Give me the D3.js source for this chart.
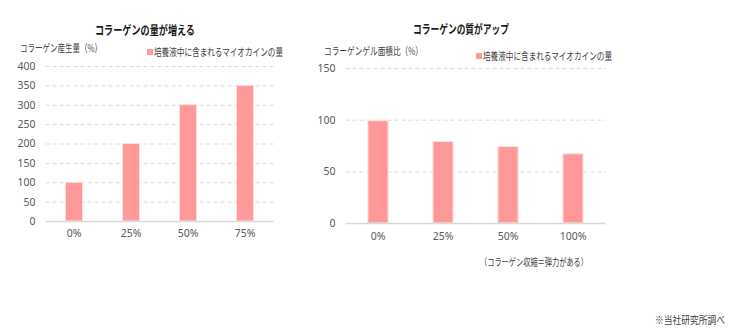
<!DOCTYPE html>
<html><head><meta charset="utf-8">
<script src="https://cdn.jsdelivr.net/npm/d3@7/dist/d3.min.js"></script>
<style>
body{margin:0;background:#fff;}
text{font-family:"Noto Sans CJK JP","Noto Sans",sans-serif;}
</style></head>
<body><svg id="c" width="740" height="334"></svg>
<script>
// Collagen production by myokine concentration
const amountCategories = ["0%", "25%", "50%", "75%"];
const amountValues = [100, 200, 300, 350];
const amountTicks = [0, 50, 100, 150, 200, 250, 300, 350, 400];

// Collagen gel area ratio by myokine concentration
const qualityCategories = ["0%", "25%", "50%", "100%"];
const qualityValues = [99, 79, 74, 67];
const qualityTicks = [0, 50, 100, 150];

const seriesName = "培養液中に含まれるマイオカインの量";
const barColor = "#ff9999";
const svg = d3.select("#c");

// narrow-set Japanese label: fixed width, glyphs condensed to fit
function label(sel, x, y, str, size, width, opts = {}) {
  return sel.append("text").attr("x", x).attr("y", y)
    .attr("text-anchor", opts.anchor || "start")
    .attr("textLength", width).attr("lengthAdjust", "spacingAndGlyphs")
    .style("font-size", size + "px").style("font-weight", opts.bold ? "bold" : "normal")
    .attr("fill", opts.fill || "#404040").text(str);
}

function panel(o) {
  const x = d3.scaleBand().domain(o.cats).range([o.x0, o.x1]).paddingInner(o.pad).paddingOuter(o.pad / 2);
  const y = d3.scaleLinear().domain([0, o.max]).range([o.y0, o.y1]);
  const g = svg.append("g");

  // dashed gridlines
  g.selectAll(".grid").data(o.ticks.filter(t => t > 0)).join("line")
    .attr("x1", o.x0).attr("x2", o.x1)
    .attr("y1", d => y(d) + 0.5).attr("y2", d => y(d) + 0.5)
    .attr("stroke", "#d9d9d9").attr("stroke-width", 1).attr("stroke-dasharray", "4,3");

  // y axis labels
  const ya = g.append("g").attr("transform", `translate(${o.x0 - 10},0)`)
    .call(d3.axisLeft(y).tickValues(o.ticks).tickSize(0).tickPadding(0));
  ya.select(".domain").remove();
  ya.selectAll("text").attr("fill", "#595959").style("font-size", "10.5px")
    .style("font-family", "'Noto Sans','Noto Sans CJK JP',sans-serif");

  // bars
  g.selectAll(".bar").data(o.cats).join("rect")
    .attr("x", d => x(d)).attr("width", x.bandwidth())
    .attr("y", (d, i) => y(o.vals[i])).attr("height", (d, i) => o.y0 - y(o.vals[i]))
    .attr("fill", barColor).attr("stroke", "#ffe0e0").attr("stroke-width", 1);

  // baseline
  g.append("line").attr("x1", o.x0).attr("x2", o.x1)
    .attr("y1", o.y0 + 0.5).attr("y2", o.y0 + 0.5)
    .attr("stroke", "#d9d9d9").attr("stroke-width", 1.5);

  // x axis labels
  const xa = g.append("g").attr("transform", `translate(0,${o.y0 + o.xlab})`)
    .call(d3.axisBottom(x).tickSize(0).tickPadding(0));
  xa.select(".domain").remove();
  xa.selectAll("text").attr("fill", "#595959").style("font-size", "10.5px")
    .style("font-family", "'Noto Sans','Noto Sans CJK JP',sans-serif");

  // title, axis title, legend
  label(g, o.tx, o.ty, o.title, 12.5, o.tw, {bold: true, fill: "#1a1a1a"});
  label(g, o.ax, o.ay, o.axisTitle, 10.5, o.aw);
  g.append("rect").attr("x", o.lx).attr("y", o.ly - 7).attr("width", 6).attr("height", 6).attr("fill", barColor);
  label(g, o.lx + 7, o.ly, seriesName, 10.5, 129);
}

panel({cats: amountCategories, vals: amountValues, ticks: amountTicks, max: 400,
  x0: 45.5, x1: 273.5, y0: 221, y1: 66, pad: 0.7, xlab: 9,
  title: "コラーゲンの量が増える", tx: 95, ty: 35, tw: 100,
  axisTitle: "コラーゲン産生量（%）", ax: 20, ay: 52, aw: 82,
  lx: 147, ly: 56});

panel({cats: qualityCategories, vals: qualityValues, ticks: qualityTicks, max: 150,
  x0: 345.5, x1: 605.5, y0: 223, y1: 68, pad: 0.69, xlab: 10,
  title: "コラーゲンの質がアップ", tx: 413, ty: 34, tw: 96,
  axisTitle: "コラーゲンゲル面積比（%）", ax: 324, ay: 55, aw: 99,
  lx: 476, ly: 60});

label(svg, 480, 266, "（コラーゲン収縮＝弾力がある）", 10, 108);
label(svg, 655, 324, "※当社研究所調べ", 10, 70);
</script></body></html>
